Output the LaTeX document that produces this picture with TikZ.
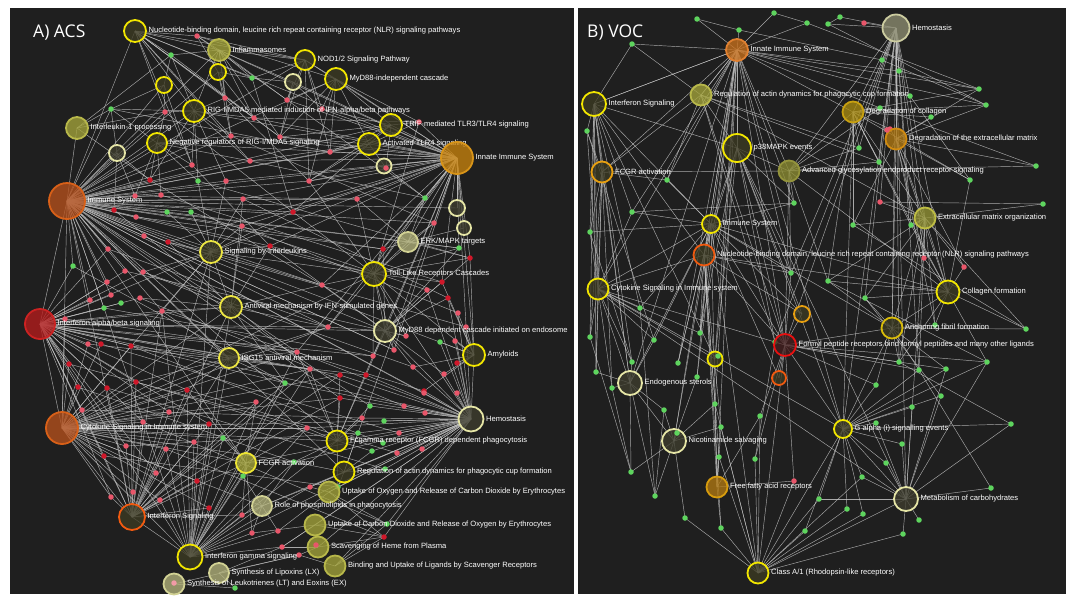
\documentclass[tikz,border=0pt]{standalone}
\usepackage{fontspec}
\setmainfont{Liberation Sans}
\newfontfamily\titlefont{Open Sans}
\pgfdeclarelayer{bglayer}
\pgfdeclarelayer{edgelayer}
\pgfsetlayers{bglayer,edgelayer,main}
\definecolor{panel}{HTML}{1F1F1F}
\definecolor{lnkc}{HTML}{C8C8C8}
\definecolor{dred}{HTML}{E8566A}
\definecolor{ddark}{HTML}{D0182A}
\definecolor{dgreen}{HTML}{5ED45E}
\definecolor{yring}{HTML}{F2E600}
\definecolor{ydark}{HTML}{3C3A22}
\definecolor{pring}{HTML}{E6E6A6}
\definecolor{pdark}{HTML}{3E3D2E}
\definecolor{olfill}{HTML}{A3A33A}
\definecolor{olring}{HTML}{B8B84A}
\definecolor{pfill}{HTML}{B2B27A}
\definecolor{pfring}{HTML}{D2D294}
\definecolor{brfill}{HTML}{B5501C}
\definecolor{brring}{HTML}{D86018}
\definecolor{rdfill}{HTML}{B51C1C}
\definecolor{rdring}{HTML}{CC2222}
\definecolor{infill}{HTML}{C8820C}
\definecolor{inring}{HTML}{D89418}
\definecolor{orring}{HTML}{F05A10}
\definecolor{rinfill}{HTML}{C8701C}
\definecolor{rinring}{HTML}{E08030}
\definecolor{hemfill}{HTML}{8C8C70}
\definecolor{hemring}{HTML}{CCCCA0}
\definecolor{gofill}{HTML}{A88A10}
\definecolor{goring}{HTML}{C8A010}
\definecolor{orfill}{HTML}{B07812}
\definecolor{orfring}{HTML}{D08A10}
\definecolor{amring}{HTML}{E8A010}
\definecolor{redring}{HTML}{E81010}
\newcommand\hubfan[2]{\foreach \t in {#2}{\draw[lnk] (#1.center) -- (\t.center);}}
\tikzset{
  lnk/.style={draw=lnkc, line width=0.45pt, opacity=0.82},
  dotr/.style={circle, inner sep=0, minimum size=5.5, fill=dred},
  dotd/.style={circle, inner sep=0, minimum size=5.5, fill=ddark},
  dotg/.style={circle, inner sep=0, minimum size=5.5, fill=dgreen},
  hub/.style={circle, inner sep=0, line width=1.8pt, fill opacity=0.78},
  hy/.style={hub, draw=yring, fill=ydark},
  hp/.style={hub, draw=pring, fill=pdark},
  hol/.style={hub, draw=olring, fill=olfill},
  hpf/.style={hub, draw=pfring, fill=pfill},
  hbr/.style={hub, draw=brring, fill=brfill},
  hrd/.style={hub, draw=rdring, fill=rdfill},
  hin/.style={hub, draw=inring, fill=infill},
  hor/.style={hub, draw=orring, fill=ydark},
  lbl/.style={text=white, fill=none, draw=none, inner sep=1.5pt, font=\fontsize{7.6}{8.5}\selectfont, text opacity=1, fill opacity=1},
  ttl/.style={text=white, anchor=west, inner sep=0, font=\titlefont\fontsize{17.5}{20}\selectfont}
}
\begin{document}
\begin{tikzpicture}[x=1pt,y=-1pt]
\useasboundingbox (0,0) rectangle (1070,598);
\begin{pgfonlayer}{bglayer}
\fill[white] (0,0) rectangle (1070,598);
\fill[panel] (10,8) rectangle (574,594);
\fill[panel] (578,8) rectangle (1066,594);
\end{pgfonlayer}

\node[ttl] (tA) at (33,33) {A) ACS};
\node[ttl] (tB) at (587,33) {B) VOC};

% ---------------- left panel dots
\foreach \n/\x/\y/\c in {a1/197/36/r,a2/171/55/g,a3/252/78/g,a4/225/98/r,a5/111/109/g,a6/165/112/r,a7/254/118/r,a8/287/100/r,a9/231/136/r,a10/280/137/r,a11/250/161/r,a12/192/165/r,a13/150/180/d,a14/198/181/g,a15/226/181/r,a16/135/196/r,a17/161/195/r,a18/322/109/r,a19/419/122/r,a20/330/152/r,a21/309/181/r,a22/425/198/g,a23/114/210/d,a24/136/217/r,a25/167/212/g,a26/191/212/g,a27/243/199/r,a28/242/226/r,a29/293/212/d,a30/144/236/r,a31/168/242/d,a32/108/249/r,a33/270/246/d,a34/73/266/g,a35/125/271/r,a36/143/272/r,a37/107/282/r,a38/90/300/r,a39/111/295/r,a40/140/298/r,a41/104/308/g,a42/121/303/g,a43/162/311/r,a44/65/319/r,a45/88/344/r,a46/101/344/d,a47/131/346/d,a48/69/364/d,a49/136/382/d,a50/78/387/d,a51/107/388/d,a52/187/390/d,a53/285/383/g,a54/297/352/r,a55/357/199/r,a56/434/223/r,a57/383/249/d,a58/459/248/g,a59/470/258/d,a60/322/285/r,a61/442/282/d,a62/427/290/r,a63/448/298/d,a64/458/313/r,a65/466/327/r,a66/328/327/r,a67/406/336/r,a68/440/342/g,a69/455/341/r,a70/394/350/r,a71/373/356/r,a72/457/363/d,a73/310/369/r,a74/340/375/d,a75/366/375/d,a76/413/367/r,a77/444/374/r,a78/424/391/d,a79/82/410/r,a80/143/422/r,a81/169/412/r,a82/209/424/d,a83/256/402/r,a84/126/446/r,a85/194/442/r,a86/166/449/r,a87/223/438/g,a88/104/456/d,a89/156/473/r,a90/197/481/d,a91/243/476/g,a92/133/492/r,a93/111/497/r,a94/160/500/r,a95/209/508/d,a96/242/515/r,a97/252/533/r,a98/278/531/r,a99/282/547/r,a100/235/588/g,a101/340/398/d,a102/424/393/r,a103/457/393/r,a104/370/406/g,a105/404/406/r,a106/425/413/r,a107/362/418/r,a108/384/421/g,a109/307/428/r,a110/358/433/g,a111/399/433/r,a112/383/443/g,a113/372/451/g,a114/397/453/r,a115/422/449/r,a116/385/469/g,a117/294/462/g,a118/310/487/r,a119/338/487/g,a120/387/524/g,a121/384/537/d,a122/299/555/r}
  {\node[dot\c] (\n) at (\x,\y) {};}

% ---------------- left panel hubs
\node[hy, minimum size=22, label={[lbl]right:{Nucleotide-binding domain, leucine rich repeat containing receptor (NLR) signaling pathways}}] (LNLR) at (135,31) {};
\node[hol, minimum size=22, label={[lbl]right:{Inflammasomes}}] (LInf) at (219,50) {};
\node[hy, minimum size=16] (Lh3) at (218,72) {};
\node[hy, minimum size=16] (Lh4) at (164,85) {};
\node[hy, minimum size=20, label={[lbl]right:{NOD1/2 Signaling Pathway}}] (LNOD) at (305,60) {};
\node[hp, minimum size=16] (Lh6) at (293,82) {};
\node[hy, minimum size=22, label={[lbl]right:{MyD88-independent cascade}}] (LMyDi) at (336,79) {};
\node[hy, minimum size=22, label={[lbl]right:{RIG-I/MDA5 mediated induction of IFN-alpha/beta pathways}}] (LRIG) at (194,111) {};
\node[hol, minimum size=22, label={[lbl]right:{Interleukin-1 processing}}] (LIL) at (77,128) {};
\node[hy, minimum size=22, label={[lbl]right:{TRIF-mediated TLR3/TLR4 signaling}}] (LTRIF) at (391,125) {};
\node[hy, minimum size=20, label={[lbl]right:{Negative regulators of RIG-I/MDA5 signaling}}] (LNeg) at (157,143) {};
\node[hp, minimum size=16] (Lh12) at (117,153) {};
\node[hy, minimum size=22, label={[lbl]right:{Activated TLR4 signaling}}] (LActT) at (369,144) {};
\node[hp, minimum size=15] (Lh14) at (384,166) {};
\node[hin, minimum size=32, label={[lbl]right:{Innate Immune System}}] (LInn) at (457,158) {};
\node[hbr, minimum size=36, label={[lbl]right:{Immune System}}] (LIS) at (67,201) {};
\node[hp, minimum size=16] (Lh17) at (457,208) {};
\node[hp, minimum size=14] (Lh18) at (464,228) {};
\node[hpf, minimum size=20, label={[lbl]right:{ERK/MAPK targets}}] (LERK) at (408,242) {};
\node[hy, draw=pring!40!yring, minimum size=22, label={[lbl]right:{Signaling by Interleukins}}] (LSigIL) at (211,252) {};
\node[hy, minimum size=24, label={[lbl]right:{Toll-Like Receptors Cascades}}] (LTLR) at (374,274) {};
\node[hrd, minimum size=30, label={[lbl]right:{Interferon alpha/beta signaling}}] (LIFNab) at (40,324) {};
\node[hy, draw=pring!40!yring, minimum size=22, label={[lbl]right:{Antiviral mechanism by IFN-stimulated genes}}] (LAnti) at (231,307) {};
\node[hp, minimum size=22, label={[lbl]right:{MyD88 dependent cascade initiated on endosome}}] (LMyDd) at (385,331) {};
\node[hy, draw=pring!40!yring, minimum size=20, label={[lbl]right:{ISG15 antiviral mechanism}}] (LISG) at (229,358) {};
\node[hy, minimum size=22, label={[lbl]right:{Amyloids}}] (LAmy) at (474,355) {};
\node[hp, minimum size=25, label={[lbl]right:{Hemostasis}}] (LHem) at (471,419) {};
\node[hbr, minimum size=32, label={[lbl]right:{Cytokine Signaling in Immune system}}] (LCS) at (62,428) {};
\node[hy, minimum size=21, label={[lbl]right:{Fcgamma receptor (FCGR) dependent phagocytosis}}] (LFcg) at (337,441) {};
\node[hpf, draw=yring!70!pring, fill=olfill, minimum size=20, label={[lbl]right:{FCGR activation}}] (LFCGR) at (246,463) {};
\node[hy, minimum size=21, label={[lbl]right:{Regulation of actin dynamics for phagocytic cup formation}}] (LRegA) at (344,472) {};
\node[hol, minimum size=21, label={[lbl]right:{Uptake of Oxygen and Release of Carbon Dioxide by Erythrocytes}}] (LUpO) at (329,492) {};
\node[hpf, minimum size=20, label={[lbl]right:{Role of phospholipids in phagocytosis}}] (LRole) at (262,506) {};
\node[hor, minimum size=26, label={[lbl]right:{Interferon Signaling}}] (LIFNs) at (132,517) {};
\node[hol, minimum size=21, label={[lbl]right:{Uptake of Carbon Dioxide and Release of Oxygen by Erythrocytes}}] (LUpC) at (315,525) {};
\node[hy, minimum size=25, label={[lbl]right:{Interferon gamma signaling}}] (LIFNg) at (190,557) {};
\node[hol, minimum size=21, label={[lbl]right:{Scavenging of Heme from Plasma}}] (LScav) at (318,547) {};
\node[hpf, minimum size=20, label={[lbl]right:{Synthesis of Lipoxins (LX)}}] (LLX) at (219,573) {};
\node[hol, minimum size=21, label={[lbl]right:{Binding and Uptake of Ligands by Scavenger Receptors}}] (LBind) at (335,566) {};
\node[hpf, minimum size=21, label={[lbl]right:{Synthesis of Leukotrienes (LT) and Eoxins (EX)}}] (LLT) at (174,584) {};
\node[dotr] (a123) at (386,168) {};
\node[dotr] (a124) at (316,545) {};
\node[dotr, fill=dred!60!white] (a125) at (174,583) {};

% ---------------- right panel dots
\foreach \n/\x/\y/\c in {b1/697/19/g,b2/774/13/g,b3/739/30/g,b4/807/23/g,b5/632/44/g,b6/587/131/g,b7/667/180/g,b8/840/17/g,b9/828/24/g,b10/864/23/r,b11/882/60/g,b12/899/71/g,b13/979/89/g,b14/986/105/g,b15/910/96/g,b16/880/108/g,b17/931/117/g,b18/890/129/r,b19/859/148/g,b20/879/162/g,b21/1036/166/g,b22/970/180/g,b23/794/203/g,b24/632/212/g,b25/590/232/g,b26/791/273/g,b27/640/308/g,b28/590/337/g,b29/654/340/g,b30/700/333/g,b31/632/362/g,b32/678/363/g,b33/596/372/g,b34/697/377/g,b35/612/388/g,b36/775/342/g,b37/880/202/r,b38/1043/204/g,b39/853/225/g,b40/911/225/g,b41/924/258/r,b42/964/267/r,b43/828/281/g,b44/865/298/g,b45/935/325/g,b46/1026/329/g,b47/899/362/g,b48/919/370/g,b49/946/369/g,b50/987/362/g,b51/876/385/g,b52/941/396/g,b53/664/410/g,b54/715/404/g,b55/760/416/g,b56/721/427/g,b57/677/433/g,b58/719/457/g,b59/755/459/g,b60/631/472/g,b61/794/481/r,b62/655/496/g,b63/819/499/g,b64/685/518/g,b65/721/528/g,b66/805/531/g,b67/912/407/g,b68/876/423/g,b69/1011/424/g,b70/902/444/g,b71/886/463/g,b72/862/477/g,b73/991/488/g,b74/847/509/g,b75/863/514/g,b76/919/520/g,b77/903/534/g}
  {\node[dot\c] (\n) at (\x,\y) {};}

% ---------------- right panel hubs
\node[hub, draw=rinring, fill=rinfill, minimum size=22, label={[lbl]right:{Innate Immune System}}] (RInn) at (737,50) {};
\node[hub, draw=hemring, fill=hemfill, minimum size=27, label={[lbl]right:{Hemostasis}}] (RHem) at (896,28) {};
\node[hy, minimum size=24, label={[lbl]right:{Interferon Signaling}}] (RIFN) at (594,104) {};
\node[hol, minimum size=21, label={[lbl]right:{Regulation of actin dynamics for phagocytic cup formation}}] (RRegA) at (701,95) {};
\node[hub, draw=goring, fill=gofill, minimum size=21, label={[lbl]right:{Degradation of collagen}}] (RDegC) at (853,112) {};
\node[hub, draw=orfring, fill=orfill, minimum size=21, label={[lbl]right:{Degradation of the extracellular matrix}}] (RDegE) at (896,139) {};
\node[hy, minimum size=28, label={[lbl]right:{p38MAPK events}}] (Rp38) at (737,148) {};
\node[hy, draw=amring, minimum size=21, label={[lbl]right:{FCGR activation}}] (RFCGR) at (602,172) {};
\node[hol, draw=olring!80!black, fill=olfill!85!black, minimum size=21, label={[lbl]right:{Advanced glycosylation endproduct receptor signaling}}] (RAGE) at (789,171) {};
\node[hol, draw=olring!90!yring, fill=olfill!90!black, minimum size=21, label={[lbl]right:{Extracellular matrix organization}}] (RECM) at (925,218) {};
\node[hy, minimum size=18, label={[lbl]right:{Immune System}}] (RIS) at (711,224) {};
\node[hor, minimum size=21, label={[lbl]right:{Nucleotide-binding domain, leucine rich repeat containing receptor (NLR) signaling pathways}}] (RNLR) at (704,255) {};
\node[hy, minimum size=21, label={[lbl]right:{Cytokine Signaling in Immune system}}] (RCS) at (598,289) {};
\node[hy, minimum size=23, label={[lbl]right:{Collagen formation}}] (RCol) at (948,292) {};
\node[hy, draw=goring!60!yring, minimum size=21, label={[lbl]right:{Anchoring fibril formation}}] (RAnch) at (892,328) {};
\node[hy, draw=amring, minimum size=16] (Rh1) at (802,314) {};
\node[hy, draw=redring, fill=rdfill!25!panel, minimum size=22, label={[lbl]right:{Formyl peptide receptors bind formyl peptides and many other ligands}}] (RForm) at (785,345) {};
\node[hy, minimum size=15] (Rh2) at (715,359) {};
\node[hor, minimum size=14] (Rh3) at (779,378) {};
\node[hp, minimum size=24, label={[lbl]right:{Endogenous sterols}}] (REndo) at (630,383) {};
\node[hp, minimum size=24, label={[lbl]right:{Nicotinamide salvaging}}] (RNic) at (674,441) {};
\node[hy, minimum size=18, label={[lbl]right:{G alpha (i) signalling events}}] (RGal) at (843,429) {};
\node[hub, draw=orfring!80!yring, fill=orfill, minimum size=21, label={[lbl]right:{Free fatty acid receptors}}] (RFFA) at (717,487) {};
\node[hp, minimum size=24, label={[lbl]right:{Metabolism of carbohydrates}}] (RCarb) at (906,499) {};
\node[hy, minimum size=21, label={[lbl]right:{Class A/1 (Rhodopsin-like receptors)}}] (RClass) at (758,573) {};
\node[dotg] (b78) at (718,356) {};
\node[dotg] (b79) at (677,433) {};
\node[dotr] (b80) at (887,130) {};

% ---------------- edges
\begin{pgfonlayer}{edgelayer}
\hubfan{LIS}{LNLR,LInf,LRIG,LIL,LNeg,Lh12,LActT,LTRIF,LInn,LSigIL,LTLR,LAnti,LISG,LMyDd,LAmy,LHem,LFcg,LFCGR,LRegA,LIFNab,LCS,LIFNs,LIFNg,LERK,Lh17,LMyDi,LNOD,Lh4,Lh3,a5,a6,a12,a13,a16,a17,a23,a24,a25,a26,a27,a28,a29,a30,a32,a34,a35,a36,a37,a38,a39,a41,a43,a55,a56,a20,a21,a57,a60,a66,a70,a101,a102,a104,a9,a11,a15,a31,a33}
\hubfan{LIFNab}{LCS,LIFNs,LAnti,LISG,LSigIL,LIFNg,LHem,LMyDd,a44,a45,a46,a47,a48,a49,a50,a51,a52,a38,a39,a41,a42,a43,a53,a54,a79,a80,a81,a84,a88,a89,a34,a37,a73,a71,a93,a32,a35,a36,a40,a66,a74,a82}
\hubfan{LCS}{LIFNs,LIFNg,LSigIL,LAnti,LISG,LFCGR,LHem,LTLR,LFcg,LRole,a79,a80,a81,a82,a84,a85,a86,a88,a89,a90,a92,a93,a94,a95,a45,a46,a48,a50,a51,a49,a52,a73,a74,a87,a101,a109,a117,a44,a47,a54,a66,a83}
\hubfan{LInn}{LTRIF,LActT,LMyDi,LNOD,LNLR,LInf,Lh14,Lh17,Lh18,LERK,LTLR,LMyDd,LAmy,LHem,LFcg,LRegA,LSigIL,LRIG,LNeg,Lh6,a19,a20,a21,a22,a55,a56,a57,a58,a59,a29,a10,a11,a8,a18,a60,a61,a28,a33,a9,a7,a31,a15,a27,a66,a70,a54}
\hubfan{LHem}{LFcg,LRegA,LUpO,LUpC,LScav,LBind,LAmy,LMyDd,LTLR,LFCGR,LRole,a101,a102,a103,a104,a105,a106,a107,a108,a109,a110,a111,a112,a113,a114,a115,a116,a117,a118,a119,a120,a121,a99,a76,a77,a78,a72,a74,a75,a54,a53,a62,a63,a64,a69,a68}
\hubfan{LIFNs}{LIFNg,LAnti,LISG,LSigIL,LFCGR,a84,a85,a86,a88,a89,a90,a92,a93,a94,a95,a96,a82,a83,a81,a80,a52,a49,a51,a73,a74,a47,a43,a53,a101}
\hubfan{LIFNg}{LSigIL,LAnti,LISG,LFCGR,LRole,LHem,LFcg,a90,a94,a95,a96,a97,a98,a99,a83,a85,a86,a87,a82,a52,a53,a91,a117,a118,a73,a54,a109,a43}
\hubfan{LNLR}{a1,a2,a4,a6,a9,a7,a12,LInf,LNOD,LRIG,a3,a10,a11}
\hubfan{LInf}{a1,a2,a3,a4,a7,a9,LNOD,Lh6,LRIG,a8,a10}
\hubfan{Lh3}{a3,a4,a7,a1,a9}
\hubfan{Lh4}{a2,a5,a6,a12}
\hubfan{LNOD}{a8,a18,a3,a1,a10,LMyDi,a20,a21}
\hubfan{Lh6}{a8,a18,a10,a3}
\hubfan{LMyDi}{a18,a19,a20,a21,LTRIF,LActT,a10,a8,a1}
\hubfan{LRIG}{a4,a5,a6,a7,a9,a11,a12,a14,a15,a2,a13}
\hubfan{LIL}{a2,a5,a6,a13}
\hubfan{LTRIF}{a19,a20,a21,a10,a18,LActT,a123}
\hubfan{LNeg}{a5,a6,a12,a13,a14,a9,a11,a16,a17}
\hubfan{Lh12}{a5,a13,a16,a23}
\hubfan{LActT}{a20,a21,a11,a10,a19,a29,a123}
\hubfan{Lh14}{a22,a21}
\hubfan{LSigIL}{a14,a15,a25,a26,a27,a28,a29,a31,a33,a36,a43,a60,LAnti,LTLR}
\hubfan{LTLR}{a22,a29,a33,a55,a56,a57,a58,a59,a60,a61,a66,a67,a70,a71,LMyDd,LERK,LAmy,a19,a21}
\hubfan{LERK}{a22,a56,a57,a58,a59,a55,Lh18}
\hubfan{LAnti}{a27,a28,a31,a33,a36,a40,a43,a53,a54,a60,a66}
\hubfan{LMyDd}{a57,a60,a61,a62,a63,a66,a67,a70,a71,a75,a76,a58,a59}
\hubfan{LISG}{a43,a47,a52,a53,a54,a66,a73,a49}
\hubfan{LAmy}{a63,a64,a65,a68,a69,a72,a76,a77,a78,a59,a61}
\hubfan{LFcg}{a101,a104,a107,a109,a110,a117,a119,a74,a75,a54,a73}
\hubfan{LFCGR}{a87,a91,a83,a96,a97,a117,a109,a52}
\hubfan{LRegA}{a113,a116,a119,a117,a118,a110}
\hubfan{LUpO}{a118,a119,a120,a98,a121}
\hubfan{LRole}{a96,a97,a98,a91,a117,a118}
\hubfan{LUpC}{a120,a121,a99,a97}
\hubfan{LScav}{a121,a122,a99}
\hubfan{LLX}{a99,a122,a100}
\hubfan{LBind}{a121,a122,a120}
\hubfan{LLT}{a100,a122}
\foreach \a/\b in {a1/a22,a2/a10,a5/a20,a13/a60,a23/a73,a34/a53,a32/a66,a44/a54,a3/a29,a12/a33,a16/a55,a24/a57,a30/a70,a35/a67,a41/a71,a45/a75,a48/a109,a50/a117,a79/a107,a84/a110,a88/a119,a6/a29,a9/a56,a14/a59,a17/a61,a26/a62,a36/a76,a40/a105,a46/a111,a4/a21,a7/a19,a11/a22,a25/a58,a27/a63,a28/a64,a31/a65,a33/a77,a43/a78,a52/a114,a47/a112,a49/a113,a51/a116,a80/a120,a86/a121}
  {\draw[lnk] (\a.center) -- (\b.center);}
% right
\hubfan{RInn}{b1,b2,b3,b4,b5,RIFN,RRegA,Rp38,RIS,RNLR,RFCGR,RCS,b12,b15,b16,b13,b14,b7,b24,RForm,Rh2,RNic,REndo,RGal,RFFA,b30,b32,b34,b54,b26,b23,RDegC,RAGE}
\hubfan{RHem}{b8,b9,b10,b11,b12,b19,b20,RDegC,RDegE,RECM,b40,b41,RCol,RAnch,b44,RForm,b36,RGal,b26,b37,RAGE,b47,b48,RCarb}
\hubfan{RIFN}{b5,b6,RInn,RCS,RFCGR,b25,b24,RIS,Rp38,RNLR,b27,b28,b33,REndo,b31,Rh2}
\hubfan{RRegA}{b5,RInn,Rp38,RECM,b19,b20,b7,RFCGR,RForm,b36}
\hubfan{RDegC}{b13,b14,b16,b17,b18,b19,b20,RAGE,RECM,RCol,b22,b39,b40,RGal,b43}
\hubfan{RDegE}{b13,b14,b17,b18,b21,b22,RECM,RCol,b42,b41,b45,RAnch,b39}
\hubfan{Rp38}{RAGE,b23,RIS,RNLR,RForm,Rh1,b26,RGal,RCarb,Rh2,b30,b36}
\hubfan{RFCGR}{RAGE,b6,b25,b7,RCS,REndo,b28,b33,b35}
\hubfan{RAGE}{b16,b19,b20,b21,b23,b26,RCol,RForm,b43}
\hubfan{RECM}{b37,b38,b39,b40,b41,b42,RCol,RAnch,b43,b44,b45,b46,b47,b48,RCarb}
\hubfan{RIS}{RCS,RNLR,b7,b24,b25,b23,RCol,RForm,Rh1,Rh3,REndo,RNic,RFFA,b29,b30,b32,b34,b27,RClass,b26,RAnch}
\hubfan{RNLR}{RCS,b26,RForm,Rh1,RCol,b54,b56,b58,RFFA,b65,b32,b30}
\hubfan{RCS}{b25,b27,b28,b29,b31,b33,b35,REndo,Rh2,RForm,b30,RCarb,RGal,b24,b6}
\hubfan{RCol}{b41,b42,b43,b44,b45,b46,b40,RAnch,b47,b50,b22}
\hubfan{RAnch}{b43,b44,b45,b46,b47,b48,b49,b51,RForm,RGal}
\hubfan{RForm}{b36,b26,Rh1,Rh3,b55,b59,b61,RGal,b47,b48,b49,b50,RClass,b51}
\hubfan{REndo}{b31,b33,b35,b53,b60,b62,b29}
\hubfan{RNic}{b53,b79,b60,b62,b64,b54,b56,REndo}
\hubfan{RGal}{b51,b52,b67,b68,b70,b71,b72,b74,b75,b63,b66,RCarb,b48,b49,b50,b69,RClass}
\hubfan{RFFA}{b54,b56,b58,b65,b61,b55}
\hubfan{RCarb}{b67,b68,b70,b71,b72,b73,b76,b77,b52,b50,b49,b69,b63,RClass}
\hubfan{RClass}{b58,b59,b61,b63,b66,b65,b64,b74,b75,b72,b77,b54,b56,b55}
\foreach \a/\b in {b4/b13,b9/b14,b12/b13,b3/b11,b11/b14,b15/b22,b16/b21,b37/b38,b39/b46,b43/b50,b24/b23,b6/b29,b25/b31,b28/b60,b27/b62,b47/b69,b48/b73,b44/b52,b53/b62,b2/b4,b1/b3,b8/b9,b34/b57,b35/b60,b36/b59}
  {\draw[lnk] (\a.center) -- (\b.center);}
\end{pgfonlayer}
\end{tikzpicture}
\end{document}
